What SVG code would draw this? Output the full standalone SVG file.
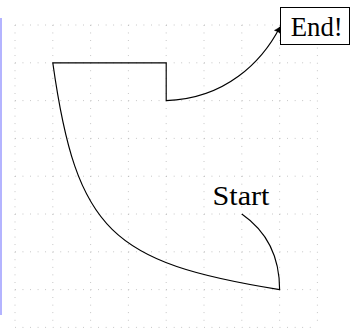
<svg xmlns="http://www.w3.org/2000/svg" width="350" height="329" viewBox="0 0 350 329">
<style>
.grid line{stroke:#a8a8a8;stroke-width:0.8;stroke-dasharray:0.8 6.76;fill:none}
.edge{fill:none;stroke:#000;stroke-width:1.15}
.lbl{font-family:"Liberation Serif","Times New Roman",serif;font-size:27px;fill:#000}
.box{fill:#fff;stroke:#000;stroke-width:1}
</style>
<defs>
<marker id="arr" viewBox="-7 -4 8 8" refX="0" refY="0" markerWidth="8" markerHeight="8" markerUnits="userSpaceOnUse" orient="auto">
<path d="M-5.5,-3.3 Q-2.2,-0.9 0,0 Q-2.2,0.9 -5.5,3.3 Q-4.3,0 -5.5,-3.3 Z" fill="#000" stroke="#000" stroke-width="0.6" stroke-linejoin="round"/>
</marker>
</defs>
<rect x="0" y="18" width="2" height="297" fill="#b4b4ff"/>
<g class="grid">
<line x1="15" y1="25" x2="15" y2="327.4"/>
<line x1="52.8" y1="25" x2="52.8" y2="327.4"/>
<line x1="90.6" y1="25" x2="90.6" y2="327.4"/>
<line x1="128.4" y1="25" x2="128.4" y2="327.4"/>
<line x1="166.2" y1="25" x2="166.2" y2="327.4"/>
<line x1="204" y1="25" x2="204" y2="327.4"/>
<line x1="241.8" y1="25" x2="241.8" y2="327.4"/>
<line x1="279.6" y1="25" x2="279.6" y2="327.4"/>
<line x1="317.4" y1="25" x2="317.4" y2="327.4"/>
<line x1="15" y1="25" x2="317.4" y2="25"/>
<line x1="15" y1="62.8" x2="317.4" y2="62.8"/>
<line x1="15" y1="100.6" x2="317.4" y2="100.6"/>
<line x1="15" y1="138.4" x2="317.4" y2="138.4"/>
<line x1="15" y1="176.2" x2="317.4" y2="176.2"/>
<line x1="15" y1="214" x2="317.4" y2="214"/>
<line x1="15" y1="251.8" x2="317.4" y2="251.8"/>
<line x1="15" y1="289.6" x2="317.4" y2="289.6"/>
<line x1="15" y1="327.4" x2="317.4" y2="327.4"/>
</g>
<g id="connectors">
<path class="edge" d="M241.8,214 C262,228 279.6,250 279.6,289.6 C111.8,262.6 76.5,231.5 52.8,62.8 L166.2,62.8 L166.2,100.6 C225,99 262,62 280,27" marker-end="url(#arr)"/>
</g>
<g id="start">
<text class="lbl" x="241" y="205" text-anchor="middle" textLength="57" lengthAdjust="spacingAndGlyphs">Start</text>
</g>
<g id="end">
<rect class="box" x="280.5" y="7.5" width="69" height="37"/>
<text class="lbl" x="316.7" y="36" text-anchor="middle" textLength="52" lengthAdjust="spacingAndGlyphs">End!</text>
</g>
</svg>
